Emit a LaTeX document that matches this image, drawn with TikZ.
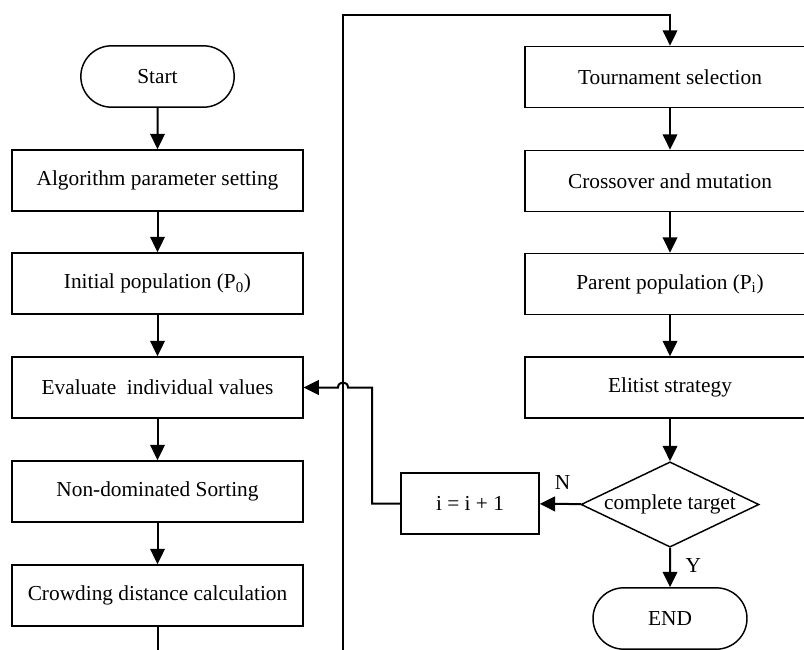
\documentclass[tikz,border=0pt]{standalone}
\usepackage{fontspec}
\setmainfont{Liberation Serif}
\usetikzlibrary{arrows.meta,shapes.geometric,shapes.misc}
\begin{document}
\begin{tikzpicture}[x=0.75pt,y=-0.75pt,
  every node/.style={font=\fontsize{16}{19}\selectfont},
  box/.style={draw,line width=1.1pt,rectangle,inner sep=0pt,minimum width=218pt,minimum height=46pt},
  pill/.style={draw,line width=1.1pt,rounded rectangle,inner sep=0pt,minimum width=115pt,minimum height=46pt},
  dia/.style={draw,line width=1.1pt,diamond,inner sep=0pt,aspect=2.1,minimum width=133.5pt,minimum height=64pt},
  conn/.style={line width=1.5pt},
  arr/.style={conn,-{Triangle[length=11.5pt,width=11pt]}},
  lab/.style={font=\fontsize{16}{19}\selectfont,inner sep=0pt}]
\useasboundingbox (0,0) rectangle (804,650);
\clip (0,0) rectangle (804,650);
% left column
\node[pill] (start) at (157.5,76.5) {Start};
\node[box] (b1) at (157.5,180.5) {Algorithm parameter setting};
\node[box] (b2) at (157.5,283.5) {Initial population (P\textsubscript{0})};
\node[box] (b3) at (157.5,387.5) {Evaluate \ individual values};
\node[box] (b4) at (157.5,491.5) {Non-dominated Sorting};
\node[box] (b5) at (157.5,595.5) {Crowding distance calculation};
% right column
\node[box,minimum width=217.5pt] (t1) at (670,77) {Tournament selection};
\node[box,minimum width=217.5pt] (t2) at (670,181) {Crossover and mutation};
\node[box,minimum width=217.5pt] (t3) at (670,284) {Parent population (P\textsubscript{i})};
\node[box,minimum width=217.5pt] (t4) at (670,387.5) {Elitist strategy};
\node[dia] (d) at (670,504.5) {complete target};
\node[box,minimum width=103.5pt] (inc) at (470,503.5) {i = i + 1};
\node[pill,minimum width=115.5pt] (end) at (670,618.5) {END};
% connectors
\draw[arr] (start) -- (b1);
\draw[arr] (b1) -- (b2);
\draw[arr] (b2) -- (b3);
\draw[arr] (b3) -- (b4);
\draw[arr] (b4) -- (b5);
\coordinate (lb) at (157.5,680);
\coordinate (lc) at (343,680);
\coordinate (ld) at (343,15);
\coordinate (le) at (670,15);
\draw[arr] (b5.south) -- (lb) -- (lc) -- (ld) -- (le) -- (t1.north);
\draw[arr] (t1) -- (t2);
\draw[arr] (t2) -- (t3);
\draw[arr] (t3) -- (t4);
\draw[arr] (t4) -- (d);
\draw[arr] (d) -- node[lab,above,pos=0.45,yshift=10pt] {N} (inc);
\draw[arr] (d) -- node[lab,right,pos=0.45,xshift=11pt] {Y} (end);
\coordinate (fa) at (372,503.5);
\coordinate (fb) at (372,387.5);
\coordinate (fc) at (348,387.5);
\coordinate (fd) at (338,387.5);
\draw[arr] (inc.west) -- (fa) -- (fb) -- (fc) .. controls (348,380.8) and (338,380.8) .. (fd) -- (b3.east);
\end{tikzpicture}
\end{document}
